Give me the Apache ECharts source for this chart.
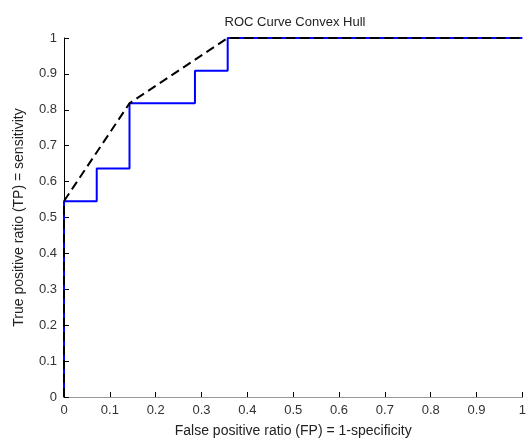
<!DOCTYPE html>
<html>
<head>
<meta charset="utf-8">
<script src="https://cdn.jsdelivr.net/npm/echarts@6/dist/echarts.min.js"></script>
<style>
  html, body { margin: 0; padding: 0; background: #fff; }
  #roc { width: 529px; height: 443px; }
</style>
</head>
<body>
<div id="roc"></div>
<script>
// ROC 阶梯曲线 (FP, TP)
let rocFP = [0, 0, 0.0714, 0.0714, 0.1429, 0.1429, 0.2857, 0.2857, 0.3571, 0.3571, 1];
let rocTP = [0, 0.5455, 0.5455, 0.6364, 0.6364, 0.8182, 0.8182, 0.9091, 0.9091, 1, 1];
// 凸包
let hullFP = [0, 0, 0.1429, 0.3571, 1];
let hullTP = [0, 0.5455, 0.8182, 1, 1];

function pairs(xs, ys) {
    return xs.map(function (x, i) { return [x, ys[i]]; });
}

var myChart = echarts.init(document.getElementById("roc"));
var font = "Liberation Sans";
var option = {
    animation: false,
    title: {
        text: "ROC Curve Convex Hull",
        left: 290,
        top: 11,
        textAlign: "center",
        textStyle: { fontFamily: font, fontSize: 13, fontWeight: "normal", color: "#222" }
    },
    grid: { left: 64, right: 4, top: 38, bottom: 42 },
    xAxis: [{
        type: "value",
        min: 0,
        max: 1,
        interval: 0.1,
        name: "False positive ratio (FP) = 1-specificity",
        nameLocation: "middle",
        nameGap: 27,
        nameTextStyle: { fontFamily: font, fontSize: 14, color: "#222" },
        axisLine: { onZero: false, lineStyle: { color: "#000", width: 1 } },
        axisTick: { inside: true, length: 5, lineStyle: { color: "#000" } },
        axisLabel: { fontFamily: font, fontSize: 13, color: "#333", margin: 7 },
        splitLine: { show: false }
    }, {
        type: "value",
        position: "top",
        min: 0,
        max: 1,
        axisLine: { show: true, lineStyle: { color: "#999", width: 1 } },
        axisTick: { show: false },
        axisLabel: { show: false },
        splitLine: { show: false }
    }],
    yAxis: {
        type: "value",
        min: 0,
        max: 1,
        interval: 0.1,
        name: "True positive ratio (TP) = sensitivity",
        nameLocation: "middle",
        nameGap: 38,
        nameTextStyle: { fontFamily: font, fontSize: 14, color: "#222" },
        axisLine: { show: true, onZero: false, lineStyle: { color: "#000", width: 1 } },
        axisTick: { show: true, inside: true, length: 5, lineStyle: { color: "#000" } },
        axisLabel: { fontFamily: font, fontSize: 13, color: "#333", margin: 7 },
        splitLine: { show: false }
    },
    series: [{
        name: "ROC",
        type: "line",
        data: pairs(rocFP, rocTP),
        showSymbol: false,
        lineStyle: { color: "#0000ff", width: 2 },
        z: 2
    }, {
        name: "Hull",
        type: "line",
        data: pairs(hullFP, hullTP),
        showSymbol: false,
        lineStyle: { color: "#000", width: 2, type: [9, 5] },
        z: 3
    }]
};
myChart.setOption(option);
</script>
</body>
</html>
